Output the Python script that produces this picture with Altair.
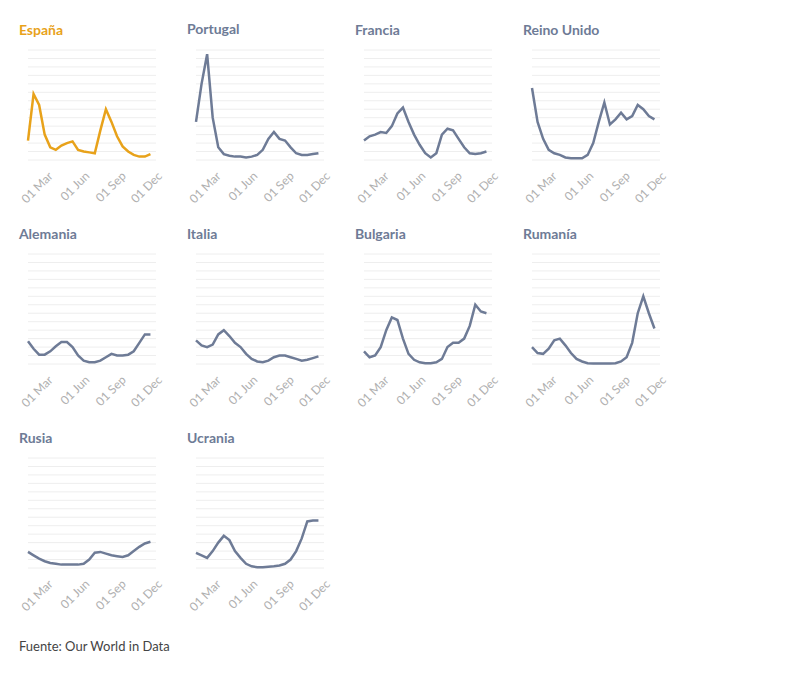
import altair as alt
import pandas as pd

dates = pd.date_range("2022-01-13", periods=23, freq="14D")

countries = ["España", "Portugal", "Francia", "Reino Unido", "Alemania",
             "Italia", "Bulgaria", "Rumanía", "Rusia", "Ucrania"]

values = {
    "España": [230, 780, 650, 300, 150, 120, 170, 200, 220, 120, 100, 90, 80, 350, 600, 450, 280, 160, 100, 60, 40, 40, 70],
    "Portugal": [450, 900, 1250, 500, 150, 70, 50, 40, 40, 30, 40, 60, 120, 250, 330, 250, 230, 150, 80, 60, 60, 70, 80],
    "Francia": [230, 280, 300, 330, 320, 400, 550, 620, 450, 300, 180, 80, 30, 80, 300, 370, 350, 250, 150, 80, 70, 80, 100],
    "Reino Unido": [850, 450, 250, 120, 80, 60, 30, 20, 20, 20, 60, 200, 450, 680, 420, 480, 560, 480, 520, 650, 600, 520, 480],
    "Alemania": [270, 180, 110, 110, 150, 210, 260, 260, 200, 100, 40, 20, 20, 40, 80, 120, 100, 100, 110, 150, 250, 350, 350],
    "Italia": [280, 220, 200, 230, 350, 400, 330, 250, 200, 120, 60, 30, 20, 40, 80, 100, 100, 80, 60, 40, 50, 70, 90],
    "Bulgaria": [150, 80, 100, 200, 400, 550, 520, 300, 120, 50, 20, 10, 10, 20, 60, 200, 250, 250, 300, 450, 700, 620, 600],
    "Rumanía": [200, 130, 120, 180, 280, 300, 220, 130, 60, 30, 10, 5, 5, 5, 5, 10, 30, 80, 250, 600, 800, 600, 420],
    "Rusia": [190, 150, 110, 80, 60, 50, 40, 40, 40, 40, 50, 100, 180, 190, 170, 150, 140, 130, 150, 200, 250, 290, 310],
    "Ucrania": [180, 150, 120, 200, 300, 380, 330, 200, 120, 50, 20, 10, 10, 15, 20, 30, 50, 100, 200, 350, 550, 560, 560],
}

y_ticks = [0, 400, 700, 1000, 1300]
grid_lines = list(range(0, 1301, 100))
x_ticks = ["2022-03-01", "2022-06-01", "2022-09-01", "2022-12-01"]


def panel(name):
    color = "#e8a21a" if name == "España" else "#6e7b96"
    df = pd.DataFrame({"fecha": dates, "valor": values[name]})
    x = alt.X("fecha:T", title=None,
              scale=alt.Scale(domain=["2022-01-13", "2022-12-01"]),
              axis=alt.Axis(values=[pd.Timestamp(d).value // 10**6 for d in x_ticks],
                            format="%d %b", labelAngle=-45, grid=False,
                            domain=False, ticks=False, labelColor="#b0b0b0",
                            labelFontSize=12, labelAlign="right",
                            labelBaseline="top", labelPadding=10))
    y = alt.Y("valor:Q", title=None,
              scale=alt.Scale(domain=[0, 1300], nice=False),
              axis=alt.Axis(values=y_ticks, format="d", grid=False,
                            domain=False, ticks=False, labelColor="#aaaaaa",
                            labelFontSize=12, labelPadding=8))
    grid = alt.Chart(pd.DataFrame({"g": grid_lines})).mark_rule(
        color="#eeeeee", strokeWidth=1
    ).encode(y=alt.Y("g:Q", scale=alt.Scale(domain=[0, 1300], nice=False), axis=None))
    line = alt.Chart(df).mark_line(color=color, strokeWidth=2.5).encode(x=x, y=y)
    return alt.layer(grid, line, title=alt.TitleParams(
        name, color=color, fontSize=14, fontWeight="bold", anchor="start",
        font="Lato", offset=12
    )).properties(width=128, height=110)


chart = alt.concat(*[panel(c) for c in countries], columns=4).properties(
    title=alt.TitleParams("Fuente: Our World in Data", orient="bottom", anchor="start",
                          fontSize=13, fontWeight="normal", color="#444444",
                          font="Lato", offset=28),
    padding={"left": 10, "top": 15, "right": 5, "bottom": 5}
).configure_concat(spacing=22).configure_view(stroke=None).configure_axis(
    labelFont="Lato"
)

chart.save("out.html", embed_options={"renderer": "svg", "actions": False})
